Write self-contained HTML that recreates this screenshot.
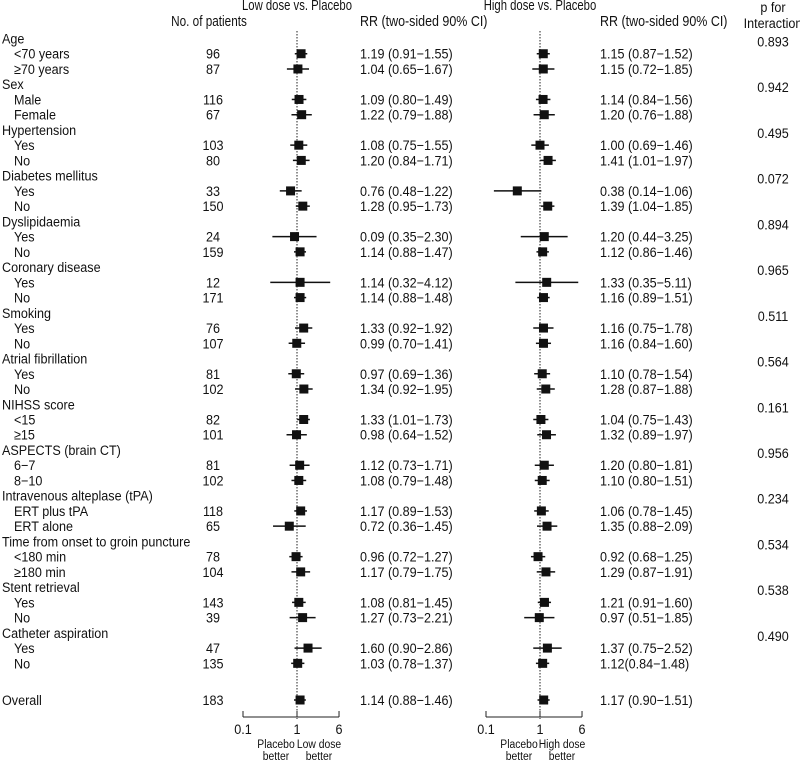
<!DOCTYPE html>
<html><head><meta charset="utf-8"><style>
html,body{margin:0;padding:0;background:#fff;width:800px;height:761px;overflow:hidden}
svg{display:block;font-family:"Liberation Sans",sans-serif;font-size:14px;fill:#111}
</style></head><body>
<svg id="chart" width="800" height="761"></svg>
<script>
const labels=["Age","<70 years","≥70 years","Sex","Male","Female","Hypertension","Yes","No","Diabetes mellitus","Yes","No","Dyslipidaemia","Yes","No","Coronary disease","Yes","No","Smoking","Yes","No","Atrial fibrillation","Yes","No","NIHSS score","<15","≥15","ASPECTS (brain CT)","6−7","8−10","Intravenous alteplase (tPA)","ERT plus tPA","ERT alone","Time from onset to groin puncture","<180 min","≥180 min","Stent retrieval","Yes","No","Catheter aspiration","Yes","No"];
const patients=[null,96,87,null,116,67,null,103,80,null,33,150,null,24,159,null,12,171,null,76,107,null,81,102,null,82,101,null,81,102,null,118,65,null,78,104,null,143,39,null,47,135];
const lowEst=[null,1.19,1.04,null,1.09,1.22,null,1.08,1.20,null,0.76,1.28,null,0.9,1.14,null,1.14,1.14,null,1.33,0.99,null,0.97,1.34,null,1.33,0.98,null,1.12,1.08,null,1.17,0.72,null,0.96,1.17,null,1.08,1.27,null,1.60,1.03];
const lowLo=[null,0.91,0.65,null,0.80,0.79,null,0.75,0.84,null,0.48,0.95,null,0.35,0.88,null,0.32,0.88,null,0.92,0.70,null,0.69,0.92,null,1.01,0.64,null,0.73,0.79,null,0.89,0.36,null,0.72,0.79,null,0.81,0.73,null,0.90,0.78];
const lowHi=[null,1.55,1.67,null,1.49,1.88,null,1.55,1.71,null,1.22,1.73,null,2.30,1.47,null,4.12,1.48,null,1.92,1.41,null,1.36,1.95,null,1.73,1.52,null,1.71,1.48,null,1.53,1.45,null,1.27,1.75,null,1.45,2.21,null,2.86,1.37];
const lowText=[null,"1.19 (0.91−1.55)","1.04 (0.65−1.67)",null,"1.09 (0.80−1.49)","1.22 (0.79−1.88)",null,"1.08 (0.75−1.55)","1.20 (0.84−1.71)",null,"0.76 (0.48−1.22)","1.28 (0.95−1.73)",null,"0.09 (0.35−2.30)","1.14 (0.88−1.47)",null,"1.14 (0.32−4.12)","1.14 (0.88−1.48)",null,"1.33 (0.92−1.92)","0.99 (0.70−1.41)",null,"0.97 (0.69−1.36)","1.34 (0.92−1.95)",null,"1.33 (1.01−1.73)","0.98 (0.64−1.52)",null,"1.12 (0.73−1.71)","1.08 (0.79−1.48)",null,"1.17 (0.89−1.53)","0.72 (0.36−1.45)",null,"0.96 (0.72−1.27)","1.17 (0.79−1.75)",null,"1.08 (0.81−1.45)","1.27 (0.73−2.21)",null,"1.60 (0.90−2.86)","1.03 (0.78−1.37)"];
const highEst=[null,1.15,1.15,null,1.14,1.20,null,1.00,1.41,null,0.38,1.39,null,1.20,1.12,null,1.33,1.16,null,1.16,1.16,null,1.10,1.28,null,1.04,1.32,null,1.20,1.10,null,1.06,1.35,null,0.92,1.29,null,1.21,0.97,null,1.37,1.12];
const highLo=[null,0.87,0.72,null,0.84,0.76,null,0.69,1.01,null,0.14,1.04,null,0.44,0.86,null,0.35,0.89,null,0.75,0.84,null,0.78,0.87,null,0.75,0.89,null,0.80,0.80,null,0.78,0.88,null,0.68,0.87,null,0.91,0.51,null,0.75,0.84];
const highHi=[null,1.52,1.85,null,1.56,1.88,null,1.46,1.97,null,1.06,1.85,null,3.25,1.46,null,5.11,1.51,null,1.78,1.60,null,1.54,1.88,null,1.43,1.97,null,1.81,1.51,null,1.45,2.09,null,1.25,1.91,null,1.60,1.85,null,2.52,1.48];
const highText=highEst.map((v,i)=>v==null?null:(i==41?"1.12(0.84−1.48)":v.toFixed(2)+" ("+highLo[i].toFixed(2)+"−"+highHi[i].toFixed(2)+")"));
const pInter=["0.893",null,null,"0.942",null,null,"0.495",null,null,"0.072",null,null,"0.894",null,null,"0.965",null,null,"0.511",null,null,"0.564",null,null,"0.161",null,null,"0.956",null,null,"0.234",null,null,"0.534",null,null,"0.538",null,null,"0.490",null,null];
const overall={n:183,low:[1.14,0.88,1.46],high:[1.17,0.90,1.51]};
const ticks=[0.1,1,6];

const svg=document.getElementById('chart');
const NS="http://www.w3.org/2000/svg";
const SX=0.9;
function mk(tag,attrs,parent){const e=document.createElementNS(NS,tag);for(const k in attrs)e.setAttribute(k,attrs[k]);(parent||svg).appendChild(e);return e;}
function txt(x,y,s,anchor,name,size,sx){const t=mk('text',{x:0,y:0,'text-anchor':anchor||'start',transform:'translate('+x+','+y+') scale('+(sx||SX)+',1)'});
if(size)t.setAttribute('font-size',size);
t.textContent=s;


return t;}
const rowY=i=>38.5+i*15.24;
const overallY=700;
const scaleL=v=>297+Math.log10(v)*54;
const scaleH=v=>540+Math.log10(v)*54;

txt(297,10,"Low dose vs. Placebo","middle","low-dose-title",14.5,0.78);
txt(540,10,"High dose vs. Placebo","middle","high-dose-title",14.5,0.78);
txt(209,26,"No. of patients","middle","patients-header",14.5,0.81);
txt(360,26,"RR (two-sided 90% CI)","start","low-rr-header",14.5,0.86);
txt(600,26,"RR (two-sided 90% CI)","start","high-rr-header",14.5,0.86);
txt(773,12,"p for","middle","p-header");
txt(773,28,"Interaction","middle","p-header-2");

[[scaleL,297],[scaleH,540]].forEach(([sc,x0],k)=>{
  const l=mk('line',{x1:x0,x2:x0,y1:31,y2:719,stroke:'#222','stroke-width':1,'stroke-dasharray':'1.5,1.5'});
  
  
  const ax=mk('line',{x1:sc(0.1),x2:sc(6),y1:717,y2:717,stroke:'#222','stroke-width':1});
  
  
  ticks.forEach(t=>{
    const tl=mk('line',{x1:sc(t),x2:sc(t),y1:711,y2:717,stroke:'#222'});
    
    
    txt(sc(t),734,String(t),'middle','tick-label');
  });
  txt(x0-21,748,"Placebo","middle","placebo-better-label",11.5);
  txt(x0-21,760,"better","middle","placebo-better-label-2",11.5);
  txt(x0+22,748,k?"High dose":"Low dose","middle","treatment-better-label",11.5);
  txt(x0+22,760,"better","middle","treatment-better-label-2",11.5);
});

function marker(sc,est,lo,hi,y,name){
  const g=mk('g',{});
  
  
  mk('line',{x1:sc(lo),x2:sc(hi),y1:y,y2:y,stroke:'#111','stroke-width':1.5},g);
  mk('rect',{x:sc(est)-4.5,y:y-4.5,width:9,height:9,fill:'#111'},g);
}

labels.forEach((lab,i)=>{
  const y=rowY(i), ty=y+5;
  const header=patients[i]==null;
  txt(header?2:14,ty,lab,'start',header?'subgroup-header':'subgroup-label');
  if(pInter[i])txt(773,ty+3,pInter[i],'middle','p-interaction');
  if(!header){
    txt(213,ty,String(patients[i]),'middle','patient-count');
    txt(360,ty,lowText[i],'start','low-rr-text');
    txt(600,ty,highText[i],'start','high-rr-text');
    marker(scaleL,lowEst[i],lowLo[i],lowHi[i],y,'low-dose-marker');
    marker(scaleH,highEst[i],highLo[i],highHi[i],y,'high-dose-marker');
  }
});
txt(2,overallY+5,"Overall",'start','overall-label');
txt(213,overallY+5,String(overall.n),'middle','overall-count');
txt(360,overallY+5,"1.14 (0.88−1.46)",'start','overall-low-rr');
txt(600,overallY+5,"1.17 (0.90−1.51)",'start','overall-high-rr');
marker(scaleL,overall.low[0],overall.low[1],overall.low[2],overallY,'overall-low-marker');
marker(scaleH,overall.high[0],overall.high[1],overall.high[2],overallY,'overall-high-marker');
</script>
</body></html>
